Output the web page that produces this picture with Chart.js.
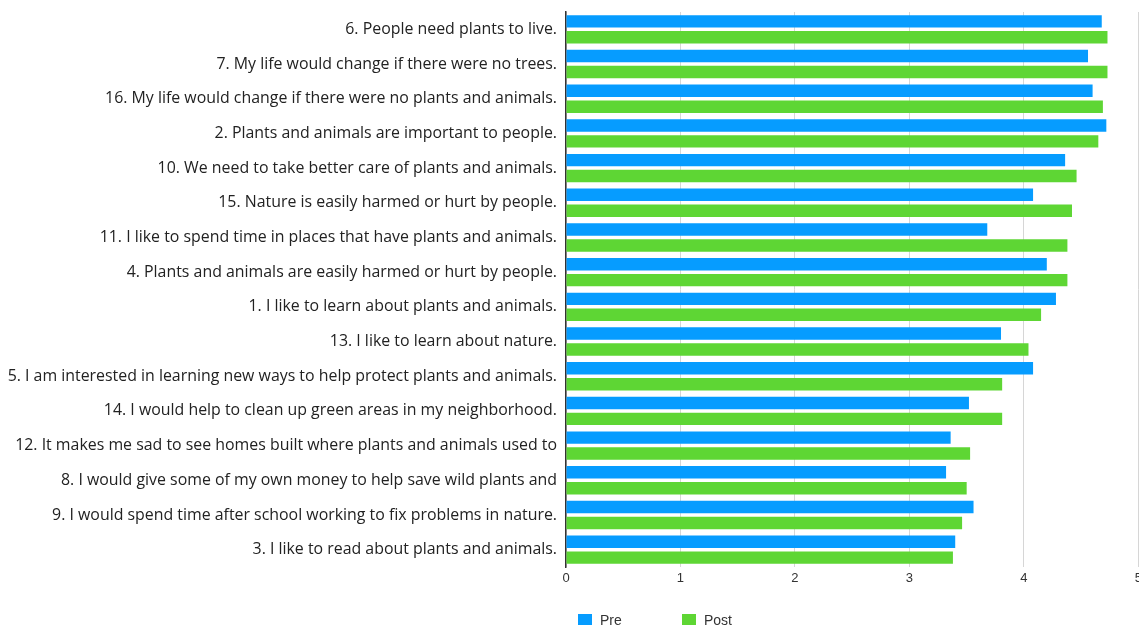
<!DOCTYPE html>
<html>
<head>
<meta charset="utf-8">
<script src="https://cdn.jsdelivr.net/npm/chart.js@4/dist/chart.umd.min.js"></script>
<style>
  html, body { margin: 0; padding: 0; background: #fff; overflow: hidden; }
  #wrap { position: relative; width: 1146px; height: 625px; }
</style>
</head>
<body>
<div id="wrap"><canvas id="chart"></canvas></div>
<script>
// Survey statements, ordered as listed on the chart (top to bottom)
const statements = [
  "6. People need plants to live.",
  "7. My life would change if there were no trees.",
  "16. My life would change if there were no plants and animals.",
  "2. Plants and animals are important to people.",
  "10. We need to take better care of plants and animals.",
  "15. Nature is easily harmed or hurt by people.",
  "11. I like to spend time in places that have plants and animals.",
  "4. Plants and animals are easily harmed or hurt by people.",
  "1. I like to learn about plants and animals.",
  "13. I like to learn about nature.",
  "5. I am interested in learning new ways to help protect plants and animals.",
  "14. I would help to clean up green areas in my neighborhood.",
  "12. It makes me sad to see homes built where plants and animals used to",
  "8. I would give some of my own money to help save wild plants and",
  "9. I would spend time after school working to fix problems in nature.",
  "3. I like to read about plants and animals."
];

// Mean agreement scores before and after the programme
const preScores  = [4.68, 4.56, 4.60, 4.72, 4.36, 4.08, 3.68, 4.20, 4.28, 3.80, 4.08, 3.52, 3.36, 3.32, 3.56, 3.40];
const postScores = [4.73, 4.73, 4.69, 4.65, 4.46, 4.42, 4.38, 4.38, 4.15, 4.04, 3.81, 3.81, 3.53, 3.50, 3.46, 3.38];

const xTicks = [0, 1, 2, 3, 4, 5];

const PRE_COLOR = '#069cff';
const POST_COLOR = '#5ed634';

// Legend drawn under the axis, using the dataset colours and names
const bottomLegend = {
  id: 'bottomLegend',
  afterDraw(chart) {
    const ctx = chart.ctx;
    const left = chart.chartArea.left;
    const items = [
      { x: left + 12, ds: chart.data.datasets[0] },
      { x: left + 116, ds: chart.data.datasets[1] }
    ];
    ctx.save();
    ctx.font = '14px "Liberation Sans", Arial, sans-serif';
    ctx.textBaseline = 'middle';
    items.forEach(it => {
      ctx.fillStyle = it.ds.backgroundColor;
      ctx.fillRect(it.x, 614, 14, 14);
      ctx.fillStyle = '#333';
      ctx.fillText(it.ds.label, it.x + 22, 621);
    });
    ctx.restore();
  }
};

new Chart(document.getElementById('chart'), {
  type: 'bar',
  data: {
    labels: statements,
    datasets: [
      { label: 'Pre', data: preScores, backgroundColor: PRE_COLOR, borderWidth: 0 },
      { label: 'Post', data: postScores, backgroundColor: POST_COLOR, borderWidth: 0 }
    ]
  },
  options: {
    indexAxis: 'y',
    responsive: true,
    maintainAspectRatio: false,
    animation: false,
    layout: { padding: { top: 12, left: 0, right: 0, bottom: 0 } },
    datasets: { bar: { categoryPercentage: 0.92, barPercentage: 0.78 } },
    plugins: {
      legend: { display: false },
      tooltip: { enabled: false }
    },
    scales: {
      x: {
        min: 0,
        max: 5,
        afterBuildTicks: s => { s.ticks = xTicks.map(v => ({ value: v })); },
        afterFit: s => { s.height = 58; },
        grid: { color: '#d6d6d6', lineWidth: 1, drawTicks: false },
        border: { display: false },
        ticks: {
          padding: 4,
          color: '#333',
          font: { family: '"Liberation Sans", Arial, sans-serif', size: 13 }
        }
      },
      y: {
        afterFit: s => { s.width = 566; s.paddingTop = 0; s.paddingBottom = 0; },
        grid: { display: false, drawTicks: false },
        border: { display: true, color: '#333', width: 1.5 },
        ticks: {
          padding: 9,
          color: '#222',
          autoSkip: false,
          font: { family: '"Open Sans", "Noto Sans", sans-serif', size: 15.9 }
        }
      }
    }
  },
  plugins: [bottomLegend]
});
</script>
</body>
</html>
